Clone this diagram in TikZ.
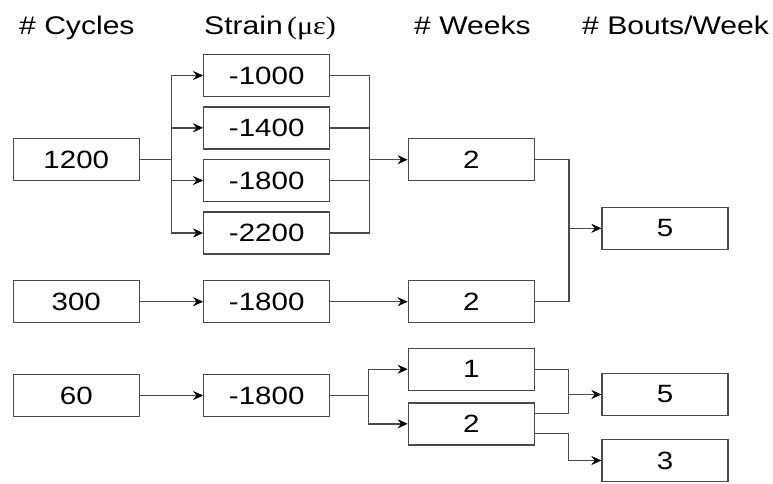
\documentclass[tikz,border=0pt]{standalone}
\usepackage{fontspec}
\setmainfont{Liberation Sans}[FakeStretch=1.18]
\newfontfamily\grserif{Liberation Serif}[FakeStretch=1.18]
\usetikzlibrary{arrows.meta}
\definecolor{linegray}{HTML}{4A4A4A}
\tikzset{
  box/.style={draw=linegray, line width=1.4pt, minimum width=126pt, minimum height=42pt, inner sep=0pt, font=\fontsize{25}{30}\selectfont},
  head/.style={anchor=base west, inner sep=0pt, font=\fontsize{25.5}{30}\selectfont},
  conn/.style={draw=linegray, line width=1.4pt},
  arr/.style={conn, -{Stealth[length=10pt,width=9pt,inset=3.5pt,line width=0.4pt,black,fill=black]}},
}
\begin{document}
\begin{tikzpicture}[x=1pt,y=-1pt]
\useasboundingbox (0,0) rectangle (773,483);
% headings
\node[head] (h1) at (19,34) {\# Cycles};
\node[head] (h2) at (204,34) {Strain\,{\grserif(με)}};
\node[head] (h3) at (414,34) {\# Weeks};
\node[head] (h4) at (582,34) {\# Bouts/Week};
% column 1
\node[box] (c1200) at (76.3,159.7) {1200};
\node[box] (c300) at (76.3,301.7) {300};
\node[box] (c60) at (76.3,395.5) {60};
% column 2
\node[box] (s1000) at (266.7,75.5) {-1000};
\node[box] (s1400) at (266.7,127.8) {-1400};
\node[box] (s1800) at (266.7,180.5) {-1800};
\node[box] (s2200) at (266.7,233) {-2200};
\node[box] (s300) at (266.7,301.7) {-1800};
\node[box] (s60) at (266.7,395.5) {-1800};
% column 3
\node[box] (w2a) at (471.3,159.7) {2};
\node[box] (w2b) at (471.3,301.7) {2};
\node[box] (w1) at (471.3,369.2) {1};
\node[box] (w2c) at (471.3,423.8) {2};
% column 4
\node[box] (b5a) at (665,228.3) {5};
\node[box] (b5b) at (665,394.5) {5};
\node[box] (b3) at (665,460.5) {3};
% junction points
\coordinate (sp1) at (171.7,159.7);
\coordinate (mg1) at (369.3,159.7);
\coordinate (mg2) at (569,228.3);
\coordinate (sp2) at (368.3,395.5);
\coordinate (mg3) at (568.3,394.5);
\coordinate (w2cu) at (534.3,413.3);
\coordinate (w2cd) at (534.3,433.3);
\coordinate (tb3) at (568.3,460.5);
% row 1200
\draw[conn] (c1200.east) -- (sp1);
\draw[arr] (sp1) |- (s1000.west);
\draw[arr] (sp1) |- (s1400.west);
\draw[arr] (sp1) |- (s1800.west);
\draw[arr] (sp1) |- (s2200.west);
\draw[conn] (s1000.east) -| (mg1);
\draw[conn] (s1400.east) -| (mg1);
\draw[conn] (s1800.east) -| (mg1);
\draw[conn] (s2200.east) -| (mg1);
\draw[arr] (mg1) -- (w2a.west);
% row 300
\draw[arr] (c300.east) -- (s300.west);
\draw[arr] (s300.east) -- (w2b.west);
\draw[conn] (w2a.east) -| (mg2);
\draw[conn] (w2b.east) -| (mg2);
\draw[arr] (mg2) -- (b5a.west);
% row 60
\draw[arr] (c60.east) -- (s60.west);
\draw[conn] (s60.east) -- (sp2);
\draw[arr] (sp2) |- (w1.west);
\draw[arr] (sp2) |- (w2c.west);
\draw[conn] (w1.east) -| (mg3);
\draw[conn] (w2cu) -| (mg3);
\draw[arr] (mg3) -- (b5b.west);
\draw[conn] (w2cd) -| (tb3);
\draw[arr] (tb3) -- (b3.west);
\end{tikzpicture}
\end{document}
